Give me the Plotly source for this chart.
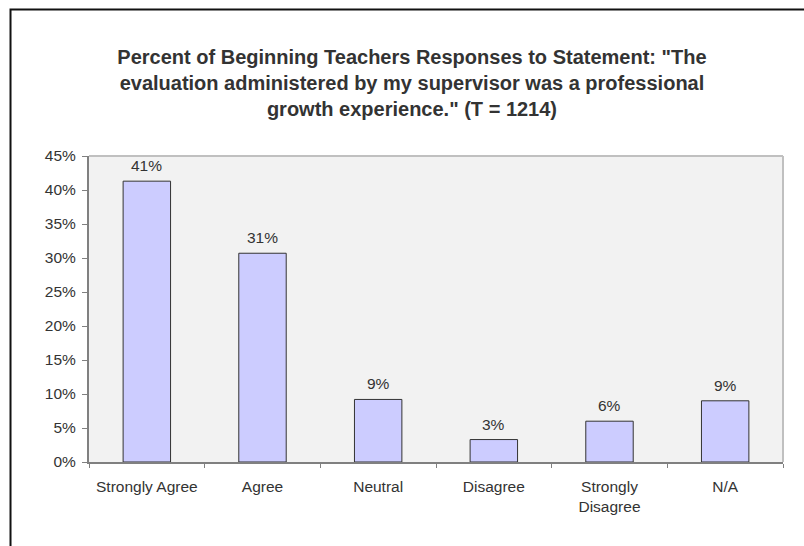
import plotly.graph_objects as go

categories = ["Strongly Agree", "Agree", "Neutral", "Disagree", "Strongly<br>Disagree", "N/A"]
percents = [0.413, 0.307, 0.092, 0.033, 0.060, 0.090]
labels = ["41%", "31%", "9%", "3%", "6%", "9%"]
y_ticks = [0, 0.05, 0.10, 0.15, 0.20, 0.25, 0.30, 0.35, 0.40, 0.45]

font = "Liberation Sans, Arial, sans-serif"

fig = go.Figure()
fig.add_trace(go.Bar(
    x=categories,
    y=percents,
    marker=dict(color="#ccccff", line=dict(color="#333333", width=1)),
    width=0.41,
    hoverinfo="skip",
))

# value labels above the bars
for c, v, t in zip(categories, percents, labels):
    fig.add_annotation(x=c, y=v, text=t, showarrow=False, yanchor="bottom",
                       yshift=5, font=dict(family=font, size=15.5, color="#333333"))

# outer chart frame (runs off the right and bottom of the page)
fig.add_shape(type="rect", xref="paper", yref="paper",
              x0=-0.1131, x1=1.05, y0=-0.3, y1=1.4788,
              line=dict(color="#111111", width=2), layer="below")

fig.update_layout(
    width=804, height=546,
    margin=dict(l=89, r=21, t=156, b=84),
    paper_bgcolor="white",
    plot_bgcolor="#f2f2f2",
    showlegend=False,
    title=dict(
        text="Percent of Beginning Teachers Responses to Statement: \"The<br>"
             "evaluation administered by my supervisor was a professional<br>"
             "growth experience.\" (T = 1214)",
        x=0.5124, xanchor="center", xref="container", y=0.883, yanchor="middle",
        font=dict(family=font, size=20, color="#333333", weight="bold"),
    ),
    font=dict(family=font, size=15.5, color="#333333"),
)

fig.update_xaxes(
    type="category", tickson="boundaries", ticks="outside", ticklen=4,
    tickcolor="#808080", showline=True, linecolor="#808080", linewidth=2,
    mirror=False, showgrid=False, ticklabelstandoff=9,
    tickfont=dict(size=15.5, color="#333333"),
)
fig.update_yaxes(
    range=[0, 0.45], tickvals=y_ticks, tickformat=".0%", ticks="outside",
    ticklen=5, tickcolor="#808080", showline=True, linecolor="#808080",
    linewidth=2, showgrid=False, zeroline=False, ticklabelstandoff=3,
    tickfont=dict(size=15.5, color="#333333"),
)

# light top and right border of the plot area
fig.add_shape(type="line", xref="paper", yref="paper", x0=0, x1=1, y0=1, y1=1,
              line=dict(color="#c0c0c0", width=2))
fig.add_shape(type="line", xref="paper", yref="paper", x0=1, x1=1, y0=0, y1=1,
              line=dict(color="#c0c0c0", width=2))

fig.write_html("out.html", config={"displayModeBar": False},
               post_script="document.body.style.margin='0';")
